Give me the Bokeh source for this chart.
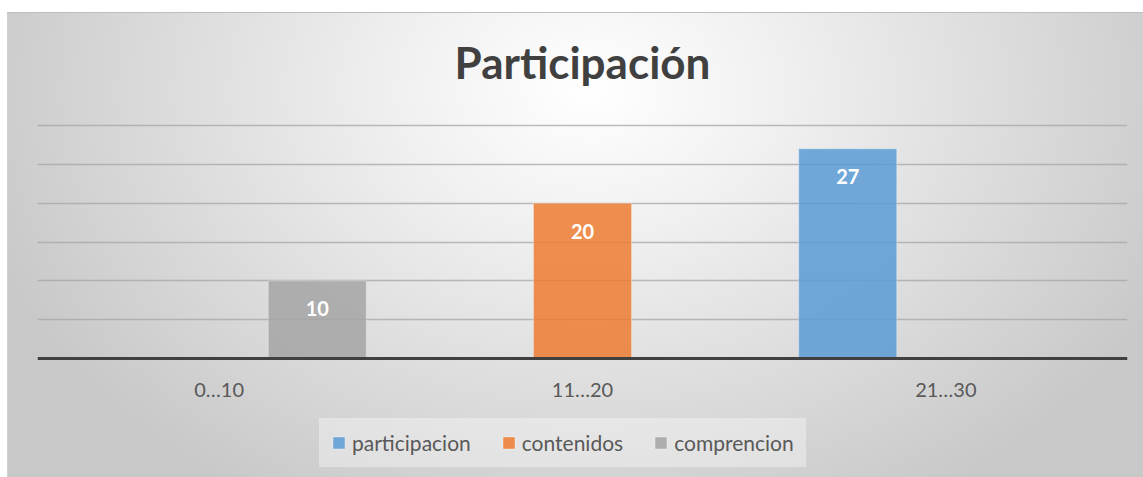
from bokeh.plotting import figure
from bokeh.models import FactorRange, Range1d, ColumnDataSource, FixedTicker, Label
from bokeh.transform import dodge
from bokeh.core.properties import value
from bokeh.embed import file_html
from bokeh.resources import INLINE

# ---- data ----
categories = ["0…10", "11…20", "21…30"]
participacion = [0, 0, 27]
contenidos = [0, 20, 0]
comprencion = [10, 0, 0]
series_names = ["participacion", "contenidos", "comprencion"]
series_colors = ["#5B9BD5", "#ED7D31", "#A5A5A5"]
title_text = "Participación"
grid_ticks = [5, 10, 15, 20, 25, 30]

FONT = "Lato"

bg = ("linear-gradient(#ffffff,#ffffff) 0 0/100% 12px no-repeat, "
      "linear-gradient(#ffffff,#ffffff) 0 0/7px 100% no-repeat, "
      "linear-gradient(#bdbdbd,#bdbdbd) 7px 12px/100% 1px no-repeat, "
      "linear-gradient(#d0d0d0,#d0d0d0) 7px 12px/1px 100% no-repeat, "
      "radial-gradient(640px 480px at 590px 90px, #ffffff 0%, #f0f0f0 30%, #c8c8c8 100%)")

# frame spans the whole chart body; y scale: 30 units over 233 px, zero at 345 px below frame top
p = figure(width=1143, height=477, x_range=FactorRange(*categories), y_range=Range1d(-15.32, 44.42),
           output_backend="svg", toolbar_location=None,
           min_border_left=37, min_border_right=16, min_border_top=13, min_border_bottom=0,
           background_fill_color=None, border_fill_color=None, outline_line_color=None,
           styles={"background": bg})
p.x_range.range_padding = 0
p.title = None

p.yaxis.visible = False
p.xgrid.visible = False
p.ygrid.ticker = FixedTicker(ticks=grid_ticks)
p.ygrid.grid_line_color = "#a6a6a6"
p.ygrid.grid_line_alpha = 0.75
p.ygrid.grid_line_width = 1.5

ax = p.xaxis[0]
ax.fixed_location = 0
ax.axis_line_color = "#404040"
ax.axis_line_width = 3
ax.major_tick_line_color = None
ax.minor_tick_line_color = None
ax.major_label_text_font = FONT
ax.major_label_text_font_size = "20px"
ax.major_label_text_color = "#595959"
ax.major_label_standoff = 12

src = ColumnDataSource(dict(cat=categories, participacion=participacion,
                            contenidos=contenidos, comprencion=comprencion))
bw = 0.27
offsets = [-bw, 0.0, bw]
all_vals = [participacion, contenidos, comprencion]
for name, color, off, vals in zip(series_names, series_colors, offsets, all_vals):
    p.vbar(x=dodge("cat", off, range=p.x_range), top=name, width=bw, source=src,
           fill_color=color, fill_alpha=0.85, line_color="white", line_alpha=0.35,
           line_width=1, legend_label=name)
    lc = [c for c, v in zip(categories, vals) if v > 0]
    lv = [v for v in vals if v > 0]
    lsrc = ColumnDataSource(dict(cat=lc, val=lv, lbl=[str(v) for v in lv]))
    p.text(x=dodge("cat", off, range=p.x_range), y="val", text="lbl", source=lsrc,
           text_align="center", text_baseline="middle", y_offset=28,
           text_color="white", text_font=value(FONT), text_font_style="bold",
           text_font_size="20px")

p.add_layout(Label(x=1.5, y=38.2, text=title_text, text_align="center",
                   text_baseline="alphabetic", text_font=FONT, text_font_size="44px",
                   text_font_style="bold", text_color="#404040"))

lg = p.legend[0]
lg.orientation = "horizontal"
lg.location = (282, 10)
lg.margin = 0
lg.label_text_font = FONT
lg.label_text_font_size = "21px"
lg.label_text_color = "#595959"
lg.glyph_width = 15
lg.glyph_height = 15
lg.label_standoff = 6
lg.spacing = 30
lg.padding = 11
lg.border_line_color = "white"
lg.border_line_alpha = 0.05
lg.background_fill_color = "white"
lg.background_fill_alpha = 0.35

open("out.html", "w").write(file_html(p, INLINE))
